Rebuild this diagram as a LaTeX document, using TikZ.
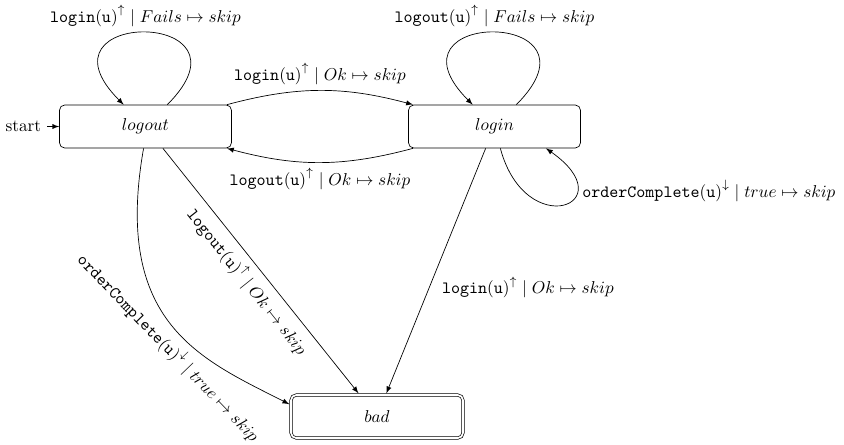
\documentclass[tikz,border=0pt]{standalone}
\usepackage{amsmath, amssymb}
\usepackage{tikz}
\newcommand{\edgelab}[3]{$\mathtt{#1}^{#2} \mid #3 \mapsto skip$}

\begin{document}
\begin{tikzpicture}[>=latex, stbox/.style={draw, rectangle, rounded corners=3pt, minimum width=100pt, minimum height=25pt}, accbox/.style={stbox, double, double distance=1pt, outer sep=1pt}]
            \useasboundingbox (0,0) rectangle (17.254,-9.097);
            \node (start) at (0.476,-2.586) {start};
            \node[stbox] (logout) at (2.974,-2.586) {$logout$};
            \node[stbox] (login) at (10.109,-2.586) {$login$};
            \node[accbox] (bad) at (7.707,-8.515) {$bad$};
            % transitions between logout, login and bad
            \draw[->] (start) -- (logout);
            \draw[->] (logout) to[out=45, in=135, loop] node[above] {\edgelab{login(u)}{\uparrow}{Fails}} (logout);
            \draw[->] (login) to[out=45, in=135, loop] node[above] {\edgelab{logout(u)}{\uparrow}{Fails}} (login);
            \draw[->] (logout) to[bend left=15] node[above] {\edgelab{login(u)}{\uparrow}{Ok}} (login);
            \draw[->] (login) to[bend left=15] node[below] {\edgelab{logout(u)}{\uparrow}{Ok}} (logout);
            \draw[->] (login.-75) to[out=-75, in=-35, looseness=5.5] node[right, pos=0.7] {\edgelab{orderComplete(u)}{\downarrow}{true}} (login.-23);
            \draw[->] (logout) -- node[sloped, below] {\edgelab{logout(u)}{\uparrow}{Ok}} (bad);
            \draw[->] (login) -- node[below right] {\edgelab{login(u)}{\uparrow}{Ok}} (bad);
            \draw[->] (logout.265) to[out=-100, in=153, out looseness=1.55, in looseness=0.86] node[sloped, below, pos=0.55] {\edgelab{orderComplete(u)}{\downarrow}{true}} (bad.172);
        \end{tikzpicture}
\end{document}
